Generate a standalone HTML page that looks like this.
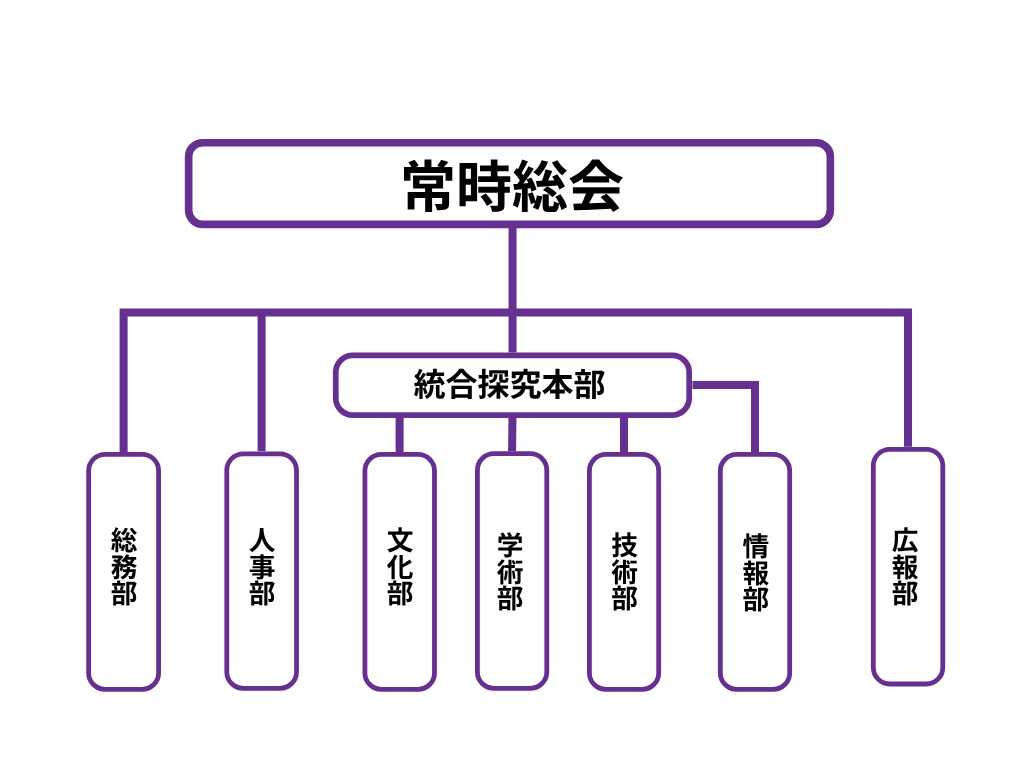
<!DOCTYPE html>
<html lang="ja">
<head>
<meta charset="utf-8">
<title>組織図</title>
<style>
  html, body { margin: 0; padding: 0; background: #ffffff; }
  body { width: 1024px; height: 768px; position: relative; overflow: hidden;
         font-family: "Liberation Sans", "Noto Sans CJK JP", sans-serif; }
  svg.chart { position: absolute; left: 0; top: 0; width: 1024px; height: 768px; display: block; }
  .lbl { position: absolute; color: #000; font-weight: 700; white-space: nowrap;
         text-rendering: geometricPrecision;
         font-family: "Liberation Sans", "Noto Sans CJK JP", sans-serif; margin: 0; padding: 0; }
  .labels { position: absolute; left: 0; top: 0; width: 1024px; height: 768px; will-change: transform; }
  .h1 { font-size: 56px; line-height: 56px; height: 56px; text-align: center; }
  .h2 { font-size: 32px; line-height: 32px; height: 32px; text-align: center; }
  .v  { writing-mode: vertical-rl; text-orientation: upright; font-size: 26.7px; line-height: 28px;
        width: 28px; letter-spacing: -0.3px; }
</style>
</head>
<body>
<svg class="chart" viewBox="0 0 1024 768" width="1024" height="768">
  <g fill="none" stroke="#65308F" stroke-linecap="butt" stroke-linejoin="miter">
    <!-- connectors -->
    <g stroke-width="8">
      <line x1="512.55" y1="226" x2="512.55" y2="352.5"/>
      <polyline points="123.6,453 123.6,312.5 908,312.5 908,446.7"/>
      <line x1="261.6" y1="312" x2="261.6" y2="451.2"/>
      <line x1="399.6" y1="416" x2="399.6" y2="453"/>
      <line x1="512.5" y1="416" x2="512.05" y2="451.2"/>
      <line x1="624" y1="416" x2="624" y2="453"/>
      <polyline points="692.5,385.05 755,385.05 755,453"/>
    </g>
    <!-- top box -->
    <rect x="188.65" y="142.7" width="641.68" height="81.65" rx="14" ry="14" stroke-width="7.65" fill="#fff"/>
    <!-- middle box -->
    <rect x="335.75" y="355.4" width="353.45" height="59.7" rx="17" ry="17" stroke-width="5.7" fill="#fff"/>
    <!-- department boxes -->
    <g stroke-width="4.8" fill="#fff">
      <rect x="88.65"  y="454.3" width="69.95" height="235.1" rx="16.5" ry="16.5"/>
      <rect x="226.8"  y="453.8" width="69.7"  height="234.6" rx="16.5" ry="16.5"/>
      <rect x="364.9"  y="454.4" width="69.6"  height="235.0" rx="16.5" ry="16.5"/>
      <rect x="477.4"  y="453.7" width="69.4"  height="234.7" rx="16.5" ry="16.5"/>
      <rect x="589.4"  y="454.4" width="69.3"  height="235.0" rx="16.5" ry="16.5"/>
      <rect x="720.3"  y="454.4" width="69.4"  height="235.0" rx="16.5" ry="16.5"/>
      <rect x="873.3"  y="449.3" width="69.5"  height="234.7" rx="16.5" ry="16.5"/>
    </g>
  </g>
</svg>

<div class="labels">
<div class="lbl h1" style="left:312.05px; top:160px; width:400px;">常時総会</div>
<div class="lbl h2" style="left:359.5px; top:369px; width:300px;">統合探究本部</div>

<div class="lbl v" style="left:107.65px; top:527px;">総務部</div>
<div class="lbl v" style="left:245.50px; top:527px;">人事部</div>
<div class="lbl v" style="left:383.60px; top:527px;">文化部</div>
<div class="lbl v" style="left:493.55px; top:532px;">学術部</div>
<div class="lbl v" style="left:608.20px; top:532px;">技術部</div>
<div class="lbl v" style="left:739.25px; top:533px;">情報部</div>
<div class="lbl v" style="left:888.55px; top:527px;">広報部</div>
</div>
</body>
</html>
